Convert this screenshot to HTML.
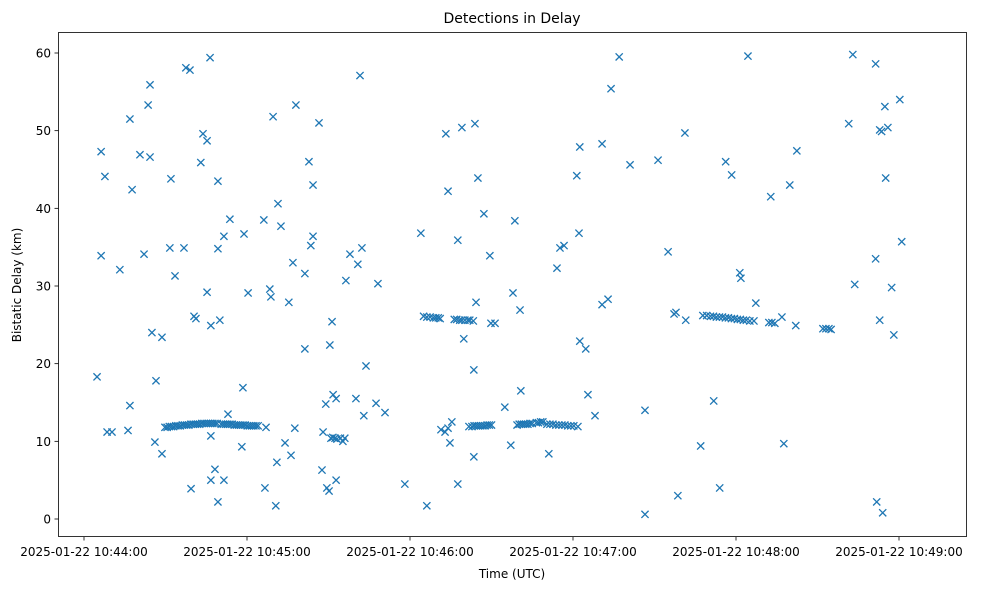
<!DOCTYPE html>
<html><head><meta charset="utf-8">
<style>
body{margin:0;background:#fff;font-family:"Liberation Sans","DejaVu Sans",sans-serif;}
svg text{font-family:"DejaVu Sans","Liberation Sans",sans-serif;font-size:12px;fill:#000;}
</style></head>
<body>
<svg id="chart" width="981" height="590" xmlns="http://www.w3.org/2000/svg">
<rect width="981" height="590" fill="#fff"/>
<text x="512" y="23" text-anchor="middle" style="font-size:14px">Detections in Delay</text>
<text x="512" y="578" text-anchor="middle">Time (UTC)</text>
<text transform="translate(21,285) rotate(-90)" text-anchor="middle">Bistatic Delay (km)</text>
<g id="marks"></g>
<g id="axes"></g>
<rect x="58.5" y="32.5" width="908" height="504" fill="none" stroke="#000" stroke-width="0.8"/>
</svg>
<script>
// seconds after 2025-01-22 10:44:00 UTC
const times = [4.8,6.3,6.3,7.7,8.5,10.3,13.2,16.2,16.9,16.9,17.7,20.6,22.1,23.6,24.3,24.3,25.0,26.1,26.5,28.7,28.7,31.6,32.0,33.5,36.8,37.5,39.0,39.4,40.5,41.2,43.0,43.8,45.3,45.3,46.4,46.7,46.7,46.7,48.2,49.3,49.3,49.3,50.0,51.5,51.5,53.0,53.7,58.5,58.1,58.9,60.4,66.2,66.6,67.0,68.4,68.8,69.6,70.6,71.0,71.4,72.5,74.0,75.4,76.2,76.9,77.6,78.0,81.3,81.3,82.8,83.5,84.3,84.3,86.5,87.6,88.0,89.0,89.4,90.2,90.5,91.7,92.8,92.8,91.3,95.3,96.4,97.9,100.1,100.8,101.6,102.3,103.0,103.8,107.5,108.2,110.8,118.1,124.0,126.2,131.4,132.9,134.0,133.2,134.0,134.7,135.4,137.6,137.6,139.1,139.8,143.5,143.9,144.3,143.5,145.0,147.2,149.4,149.8,151.3,154.9,157.1,157.9,158.6,160.5,160.8,171.1,174.1,175.2,176.7,181.4,182.2,182.5,182.5,184.7,185.5,188.1,190.7,190.7,192.9,194.0,197.0,201.0,206.5,206.5,211.3,215.0,217.2,217.9,218.6,221.2,221.5,227.0,231.8,234.0,236.2,238.4,241.4,241.8,244.4,247.3,252.8,256.9,257.6,259.8,262.0,262.4,281.5,283.0,283.7,291.4,291.4,291.8,292.9,292.9,293.6,294.0,294.8,295.1,295.9,297.3,298.1,300.3,301.0,
29.8,30.6,31.4,32.2,33.0,33.8,34.6,35.4,36.2,37.0,37.8,38.6,39.4,40.2,41.0,41.8,42.6,43.4,44.2,45.0,45.8,46.6,47.4,48.2,49.0,50.5,51.3,52.1,52.9,53.7,54.5,55.3,56.1,56.9,57.7,58.5,59.3,60.1,60.9,61.7,62.5,63.3,64.1,
90.9,91.6,92.4,93.1,94.4,96.0,
125.0,126.2,127.4,128.6,129.5,130.4,131.1,
136.3,137.2,138.3,139.1,140.2,141.3,142.0,143.3,
141.7,142.8,143.6,144.4,145.2,146.0,146.8,147.6,148.4,149.2,150.0,
159.4,160.2,161.0,161.8,162.6,163.4,164.2,165.0,166.5,167.3,168.1,168.9,
170.4,171.5,172.6,173.7,174.8,175.9,177.0,178.1,179.2,180.3,181.8,
227.8,229.2,230.6,231.7,232.8,233.9,235.0,236.1,237.2,238.3,239.4,240.5,241.6,242.7,243.8,245.1,246.6,
252.1,253.2,254.3,
272.0,273.1,274.2,275.0];
const delays = [18.3,47.3,33.9,44.1,11.2,11.2,32.1,11.4,14.6,51.5,42.4,46.9,34.1,53.3,55.9,46.6,24.0,9.9,17.8,23.4,8.4,34.9,43.8,31.3,34.9,58.1,57.8,3.9,26.1,25.8,45.9,49.6,48.7,29.2,59.4,24.9,10.7,5.0,6.4,2.2,43.5,34.8,25.6,5.0,36.4,13.5,38.6,16.9,9.3,36.7,29.1,38.5,4.0,11.8,29.6,28.6,51.8,1.7,7.3,40.6,37.7,9.8,27.9,8.2,33.0,11.7,53.3,21.9,31.6,46.0,35.2,43.0,36.4,51.0,6.3,11.2,14.8,4.0,3.6,22.4,16.0,15.5,5.0,25.4,10.0,30.7,34.1,15.5,32.8,57.1,34.9,13.3,19.7,14.9,30.3,13.7,4.5,36.8,1.7,11.5,11.2,11.7,49.6,42.2,9.8,12.5,35.9,4.5,50.4,23.2,19.2,50.9,27.9,8.0,43.9,39.3,33.9,25.2,25.2,14.4,9.5,29.1,38.4,26.9,16.5,8.4,32.3,34.9,35.2,44.2,36.8,47.9,22.9,21.9,16.0,13.3,48.3,27.6,28.3,55.4,59.5,45.6,14.0,0.6,46.2,34.4,26.4,26.6,3.0,49.7,25.6,9.4,15.2,4.0,46.0,44.3,31.7,31.0,59.6,27.8,41.5,26.0,9.7,43.0,24.9,47.4,50.9,59.8,30.2,58.6,33.5,2.2,25.6,50.1,49.9,0.8,53.1,43.9,50.4,29.8,23.7,54.0,35.7,
11.8,11.8,11.9,11.9,11.9,12.0,12.0,12.0,12.1,12.1,12.1,12.1,12.2,12.2,12.2,12.2,12.2,12.3,12.3,12.3,12.3,12.3,12.3,12.3,12.3,12.2,12.2,12.2,12.2,12.2,12.2,12.1,12.1,12.1,12.1,12.1,12.1,12.0,12.0,12.0,12.0,12.0,12.0,
10.4,10.5,10.4,10.3,10.4,10.4,
26.1,26.0,26.0,25.9,25.9,25.9,25.8,
25.7,25.7,25.6,25.6,25.6,25.6,25.6,25.5,
11.9,11.9,12.0,12.0,12.0,12.0,12.0,12.0,12.1,12.1,12.1,
12.1,12.2,12.2,12.2,12.2,12.2,12.3,12.3,12.4,12.4,12.5,12.5,
12.2,12.2,12.2,12.1,12.1,12.1,12.1,12.0,12.0,12.0,11.9,
26.2,26.2,26.1,26.1,26.0,26.0,26.0,25.9,25.9,25.8,25.8,25.7,25.7,25.6,25.6,25.5,25.5,
25.3,25.3,25.2,
24.5,24.5,24.5,24.4];
const xTickSecs = [0,60,120,180,240,300];
const xTickLabels = ["2025-01-22 10:44:00","2025-01-22 10:45:00","2025-01-22 10:46:00","2025-01-22 10:47:00","2025-01-22 10:48:00","2025-01-22 10:49:00"];
const yTicks = [0,10,20,30,40,50,60];

const NS="http://www.w3.org/2000/svg";
function xs(t){return 84+t*163/60;}
function ys(v){return 519-v*(466/60);}
const marks=document.getElementById('marks');
for(let i=0;i<times.length;i++){
  const cx=xs(times[i]), cy=ys(delays[i]), r=3.6;
  const p=document.createElementNS(NS,'path');
  p.setAttribute('d',`M${cx-r},${cy-r}L${cx+r},${cy+r}M${cx-r},${cy+r}L${cx+r},${cy-r}`);
  p.setAttribute('stroke','#1f77b4');p.setAttribute('stroke-width','1.3');p.setAttribute('fill','none');
  
  
  marks.appendChild(p);
}
const axes=document.getElementById('axes');
xTickSecs.forEach((s,i)=>{
  const x=xs(s);
  const l=document.createElementNS(NS,'line');
  l.setAttribute('x1',x);l.setAttribute('x2',x);l.setAttribute('y1',537);l.setAttribute('y2',540.5);
  l.setAttribute('stroke','#000');l.setAttribute('stroke-width','0.8');
  
  
  axes.appendChild(l);
  const t=document.createElementNS(NS,'text');
  t.setAttribute('x',x);t.setAttribute('y',556);t.setAttribute('text-anchor','middle');
  t.textContent=xTickLabels[i];
  
  
  axes.appendChild(t);
});
yTicks.forEach(v=>{
  const y=ys(v);
  const l=document.createElementNS(NS,'line');
  l.setAttribute('x1',54.5);l.setAttribute('x2',58.5);l.setAttribute('y1',y);l.setAttribute('y2',y);
  l.setAttribute('stroke','#000');l.setAttribute('stroke-width','0.8');
  
  
  axes.appendChild(l);
  const t=document.createElementNS(NS,'text');
  t.setAttribute('x',51);t.setAttribute('y',y+4.5);t.setAttribute('text-anchor','end');
  t.textContent=v;
  
  
  axes.appendChild(t);
});
</script>
</body></html>
